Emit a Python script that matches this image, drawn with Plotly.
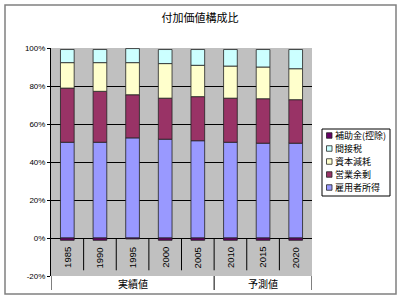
import plotly.graph_objects as go

years = ["1985", "1990", "1995", "2000", "2005", "2010", "2015", "2020"]
series_names = ["雇用者所得", "営業余剰", "資本減耗", "間接税", "補助金(控除)"]
employee = [50.4, 50.4, 52.7, 52.0, 51.2, 50.4, 49.9, 49.9]
surplus = [28.5, 26.8, 22.7, 21.6, 23.2, 23.2, 23.4, 22.9]
depreciation = [13.4, 15.1, 16.9, 18.2, 16.5, 16.9, 16.7, 16.3]
indirect_tax = [6.9, 6.9, 7.4, 7.4, 8.3, 8.7, 9.2, 10.1]
subsidy = [-1.2, -1.2, -0.5, -1.2, -1.2, -1.2, -1.2, -1.2]
groups = ["実績値", "予測値"]
group_sizes = [5, 3]
y_ticks = [-20, 0, 20, 40, 60, 80, 100]
y_ticktext = ["-20%", "0%", "20%", "40%", "60%", "80%", "100%"]
title = "付加価値構成比"

colors = ["#9999FF", "#993366", "#FFFFCC", "#CCFFFF", "#660066"]
values = [employee, surplus, depreciation, indirect_tax, subsidy]

W, H = 400, 299
L, R, T, B = 51, 88, 48, 23
pw, ph = W - L - R, H - T - B

def px_x(p):
    return (p - L) / pw

def px_y(p):
    return (H - B - p) / ph

xs = list(range(len(years)))
fig = go.Figure()
for name, vals, col in zip(series_names, values, colors):
    fig.add_trace(go.Bar(x=xs, y=vals, name=name, marker_color=col,
                         marker_line_color="#222222", marker_line_width=0.8,
                         showlegend=False))

font_cjk = "Noto Sans CJK JP"
shapes = []
annotations = []

# category labels (rotated) and separators
for i, yr in enumerate(years):
    annotations.append(dict(x=i, y=-10.3, xref="x", yref="y", text=yr, textangle=-90,
                            showarrow=False, font=dict(family="Liberation Sans", size=9.5, color="black")))
for i in range(len(years) - 1):
    shapes.append(dict(type="line", xref="x", yref="y", x0=i + 0.5, x1=i + 0.5, y0=0, y1=-17,
                       line=dict(color="black", width=1)))

# group labels and separators
start = -0.5
bounds = [start]
for g, n in zip(groups, group_sizes):
    end = start + n
    annotations.append(dict(x=(start + end) / 2, y=px_y(283.5), xref="x", yref="paper", text=g,
                            showarrow=False, yanchor="middle",
                            font=dict(family=font_cjk, size=10, color="black")))
    bounds.append(end)
    start = end
for b in bounds:
    shapes.append(dict(type="line", xref="x", yref="paper", x0=b, x1=b, y0=0, y1=px_y(290),
                       line=dict(color="black", width=1)))

# manual legend (top to bottom reversed order)
leg_x0, leg_x1, leg_y0, leg_y1 = 322, 390, 129, 196
shapes.append(dict(type="rect", xref="paper", yref="paper", x0=px_x(leg_x0), x1=px_x(leg_x1),
                   y0=px_y(leg_y1), y1=px_y(leg_y0), line=dict(color="black", width=1),
                   fillcolor="white"))
item_y = [135.5, 148.5, 161.5, 174.5, 187.5]
for k, idx in enumerate(reversed(range(len(series_names)))):
    cy = item_y[k]
    shapes.append(dict(type="rect", xref="paper", yref="paper", x0=px_x(326.5), x1=px_x(332),
                       y0=px_y(cy + 2.75), y1=px_y(cy - 2.75), line=dict(color="#222222", width=0.8),
                       fillcolor=colors[idx]))
    annotations.append(dict(x=px_x(334), y=px_y(cy), xref="paper", yref="paper",
                            text=series_names[idx], showarrow=False, xanchor="left", yanchor="middle",
                            borderpad=0,
                            font=dict(family=font_cjk, size=9, color="black")))

# outer chart border
shapes.append(dict(type="rect", xref="paper", yref="paper", x0=px_x(5), x1=px_x(396),
                   y0=px_y(294), y1=px_y(5), line=dict(color="#808080", width=1.5)))

fig.update_layout(
    width=W, height=H,
    margin=dict(l=L, r=R, t=T, b=B),
    paper_bgcolor="white", plot_bgcolor="#C0C0C0",
    barmode="relative", bargap=0.58,
    title=dict(text=title, x=0.5, xref="container", xanchor="center", y=1 - 18.5 / H,
               yref="container", yanchor="middle",
               font=dict(family=font_cjk, size=11, color="black")),
    xaxis=dict(range=[-0.5, len(years) - 0.5], showticklabels=False, showgrid=False,
               zeroline=False, ticks="", showline=False, fixedrange=True),
    yaxis=dict(range=[-20, 100], tickvals=y_ticks, ticktext=y_ticktext, showgrid=True,
               gridcolor="black", gridwidth=1, zeroline=True, zerolinecolor="black",
               zerolinewidth=1, showline=True, linecolor="black", linewidth=1,
               ticks="outside", ticklen=3, tickcolor="black",
               tickfont=dict(family="Liberation Sans", size=8, color="black")),
    shapes=shapes, annotations=annotations,
    showlegend=False,
)

fig.write_html("out.html")
